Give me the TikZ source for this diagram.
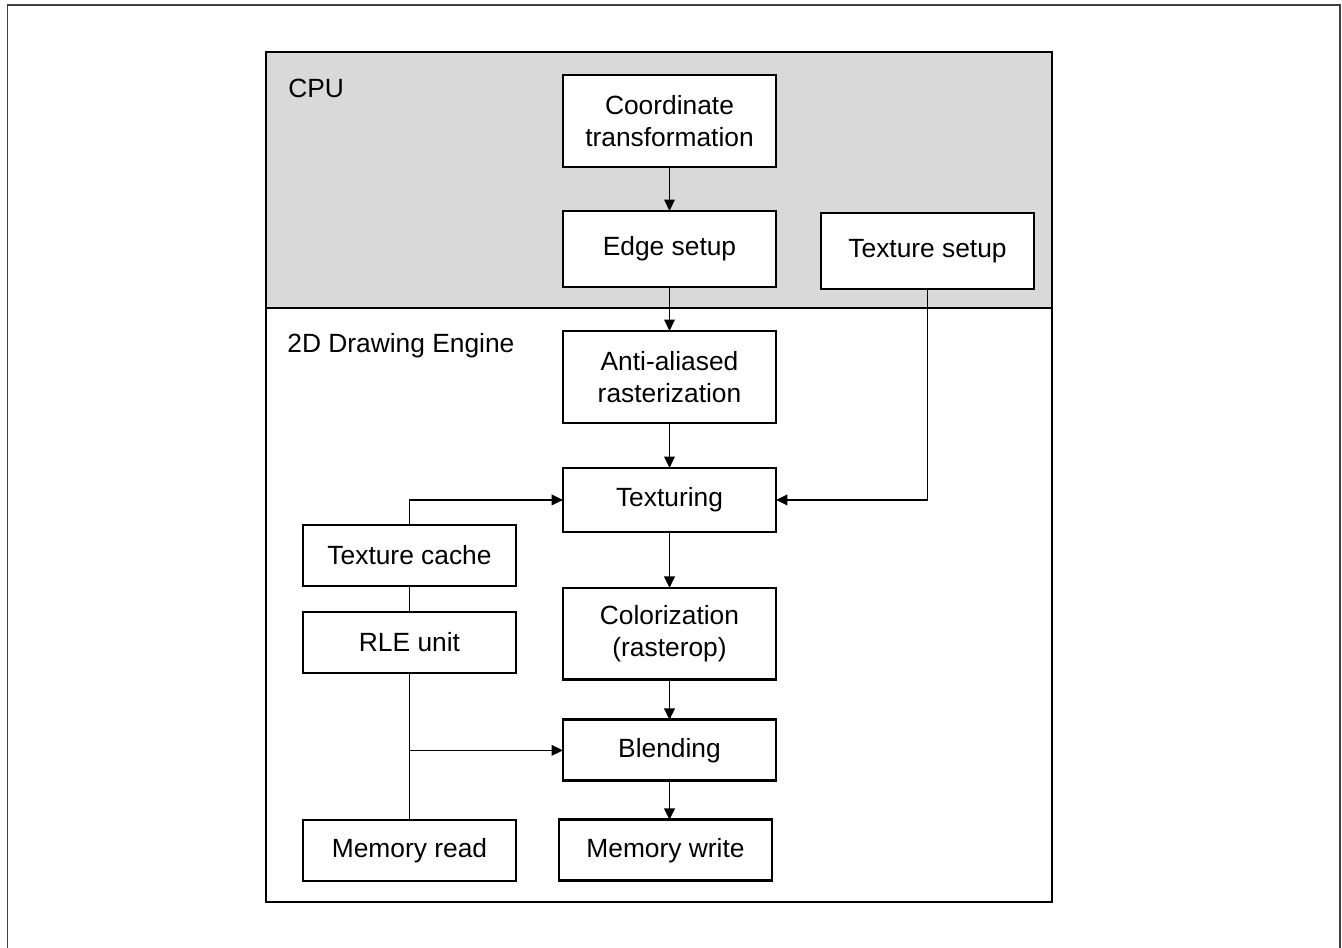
\documentclass[tikz,border=0pt]{standalone}
\usepackage{fontspec}
\setmainfont{Liberation Sans}
\usepackage{xcolor}
\usetikzlibrary{arrows.meta, positioning}

\definecolor{cpugray}{HTML}{D9D9D9}

\begin{document}
\begin{tikzpicture}[
    x=0.02cm, y=-0.02cm,
    font=\fontsize{15}{18}\selectfont,
    base/.style={draw, line width=1.6pt, align=center, fill=white, inner sep=2pt, outer sep=0pt},
    block/.style={base, rectangle, minimum width=4.26cm, minimum height=1.22cm},
    midblock/.style={block, minimum height=1.52cm},
    tallblock/.style={block, minimum height=1.84cm},
    region/.style={draw, line width=1.1pt},
    label/.style={inner sep=0pt, anchor=base west},
    arrow/.style={-{Triangle[length=6.5pt, width=6pt]}, line width=1pt},
    link/.style={line width=1pt}
]
    \useasboundingbox (0,0) rectangle (1342,947);

    % Frame and regions
    \draw [black!75, line width=1.1pt] (7.5,960) -- (7.5,5) -- (1340,5) -- (1340,960);
    \fill [cpugray] (266,52) rectangle (1052,308);
    \draw [region] (266,52) rectangle (1052,902);
    \draw [region] (266,308) -- (1052,308);
    \node [label] (cpu) at (288,97) {CPU};
    \node [label] (engine) at (287,352) {2D Drawing Engine};

    % Nodes
    \node [tallblock] (coord) at (669.5,121) {Coordinate\\transformation};
    \node [midblock] (edge) [below=0.88cm of coord] {Edge setup};
    \node [midblock] (texset) at (927.5,251) {Texture setup};
    \node [tallblock] (anti) [below=0.88cm of edge] {Anti-aliased\\rasterization};
    \node [block, minimum height=1.28cm] (texing) [below=0.9cm of anti] {Texturing};
    \node [tallblock] (color) [below=1.12cm of texing] {Colorization\\(rasterop)};
    \node [block] (blend) [below=0.8cm of color] {Blending};
    \node [block] (memw) [below=0.78cm of blend, xshift=-0.08cm] {Memory write};

    \node [block] (tcache) at (409.5,555.5) {Texture cache};
    \node [block] (rle) [below=0.52cm of tcache] {RLE unit};
    \node [block] (memr) [below=2.94cm of rle] {Memory read};

    \coordinate (split) at (rle |- blend);

    % Path connections
    \draw [arrow] (coord) -- (edge);
    \draw [arrow] (edge) -- (anti);
    \draw [arrow] (anti) -- (texing);
    \draw [arrow] (texing) -- (color);
    \draw [arrow] (color) -- (blend);
    \draw [arrow] (blend) -- (blend |- memw.north);

    % Texture inputs
    \draw [arrow] (texset) |- (texing);
    \draw [arrow] (tcache) |- (texing);

    % Left column
    \draw [link] (tcache) -- (rle);
    \draw [link] (rle) -- (memr);
    \draw [arrow] (split) -- (blend);

\end{tikzpicture}
\end{document}
